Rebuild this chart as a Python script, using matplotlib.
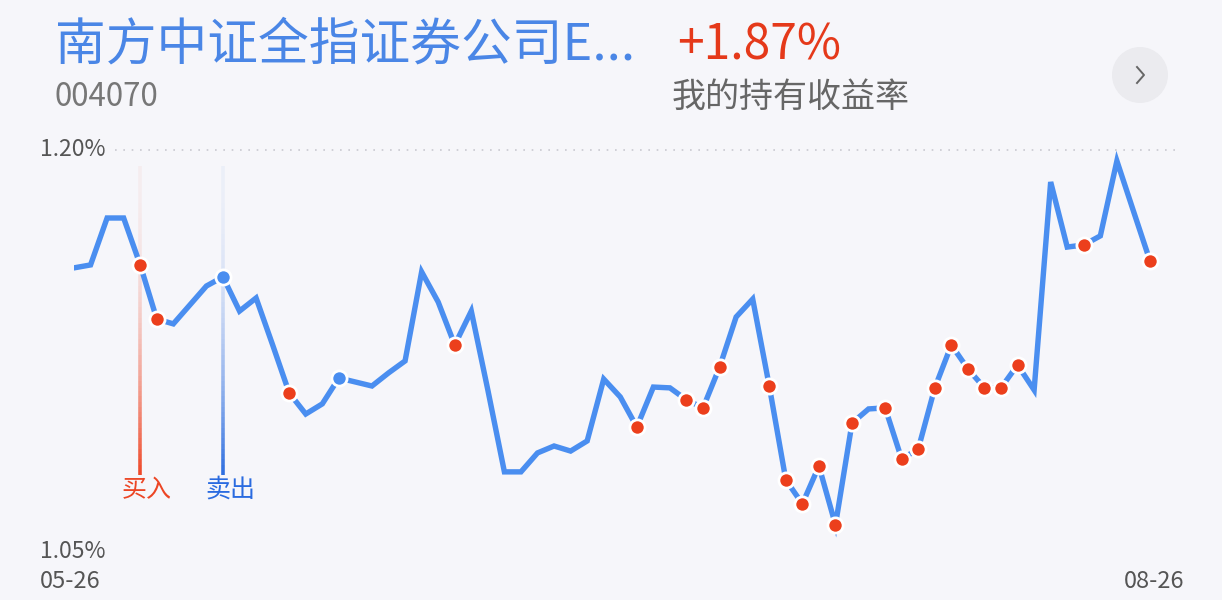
import matplotlib.pyplot as plt
import matplotlib.colors as mc
import numpy as np
from matplotlib.patches import Ellipse
from matplotlib.lines import Line2D
from matplotlib.collections import LineCollection

plt.rcParams['font.family'] = ['Noto Sans CJK SC', 'DejaVu Sans']

# daily holding return (%) from 05-26 to 08-26
returns = [1.1558, 1.1569, 1.1745, 1.1745, 1.1569, 1.1366, 1.1348, 1.1419, 1.1490, 1.1524,
           1.1396, 1.1445, 1.1269, 1.1089, 1.1010, 1.1048, 1.1145, 1.1130, 1.1115, 1.1164,
           1.1209, 1.1543, 1.1430, 1.1269, 1.1396, 1.1100, 1.0793, 1.0793, 1.0864, 1.0890,
           1.0871, 1.0909, 1.1141, 1.1074, 1.0961, 1.1111, 1.1108, 1.1063, 1.1033, 1.1186,
           1.1374, 1.1441, 1.1115, 1.0763, 1.0673, 1.0815, 1.0594, 1.0976, 1.1029, 1.1033,
           1.0841, 1.0879, 1.1108, 1.1269, 1.1179, 1.1108, 1.1108, 1.1194, 1.1100, 1.1880,
           1.1636, 1.1644, 1.1678, 1.1959, 1.1771, 1.1584]
red_idx = [4, 5, 13, 23, 34, 37, 38, 39, 42, 43, 44, 45, 46, 47, 49, 50, 51, 52, 53,
           54, 55, 56, 57, 61, 65]
blue_idx = [9, 16]
buy_idx = 4
sell_idx = 9
y_ticks = ['1.20%', '1.05%']
x_ticks = ['05-26', '08-26']

bg = '#f6f6fa'
line_blue = '#4a8ef0'
red = '#ec3f1c'

W, H = 1222, 600
fig = plt.figure(figsize=(W / 100, H / 100), dpi=100, facecolor=bg)

def fx(px):
    return px / W

def fy(py):
    return 1 - py / H

ax = fig.add_axes([fx(74), fy(550), fx(1150) - fx(74), fy(150) - fy(550)])
ax.set_facecolor(bg)
ax.set_xlim(0, len(returns) - 1)
ax.set_ylim(1.05, 1.20)
ax.axis('off')

x = np.arange(len(returns))
y = np.array(returns)

# dotted top guide
ax.hlines(1.20, 2.5, 66.8, colors='#c9c9d0', linestyles=(0, (1, 4)), lw=1.2, clip_on=False)

# buy / sell marker lines, fading towards the top
def grad_line(xi, color, top, bottom):
    ys = np.linspace(top, bottom, 60)
    segs = [[(xi, ys[i]), (xi, ys[i + 1])] for i in range(len(ys) - 1)]
    t = np.linspace(0, 1, len(segs))
    alphas = 0.05 + 0.95 * t ** 2.2
    rgb = mc.to_rgb(color)
    cols = [(rgb[0], rgb[1], rgb[2], a) for a in alphas]
    ax.add_collection(LineCollection(segs, colors=cols, linewidths=2.6, zorder=1))

grad_line(buy_idx, '#ef4a2a', 1.194, 1.0781)
grad_line(sell_idx, '#2f6fe0', 1.194, 1.0781)

ax.plot(x, y, color=line_blue, lw=3.9, solid_joinstyle='miter', zorder=3)
ax.scatter(x[red_idx], y[red_idx], s=120, color=red, edgecolors='white',
           linewidths=2, zorder=4, clip_on=False)
ax.scatter(x[blue_idx], y[blue_idx], s=120, color='#4a8ef0', edgecolors='white',
           linewidths=2, zorder=4, clip_on=False)

fig.text(fx(147), fy(490), '买入', color='#ec4524', fontsize=18, ha='center', va='center')
fig.text(fx(230), fy(490), '卖出', color='#2a6be0', fontsize=18, ha='center', va='center')

# axis labels
fig.text(fx(40), fy(150), y_ticks[0], color='#555555', fontsize=16.5, ha='left', va='center')
fig.text(fx(40), fy(552), y_ticks[1], color='#555555', fontsize=16.5, ha='left', va='center')
fig.text(fx(40), fy(582), x_ticks[0], color='#555555', fontsize=17, ha='left', va='center')
fig.text(fx(1184), fy(582), x_ticks[1], color='#555555', fontsize=17, ha='right', va='center')

# header
fig.text(fx(55), fy(46), '南方中证全指证券公司E...', color='#4a86e6', fontsize=36.5,
         ha='left', va='center')
fig.text(fx(55), fy(97), '004070', color='#777777', fontsize=22.5, ha='left', va='center')
fig.text(fx(677), fy(46), '+1.87%', color='#e5391a', fontsize=34.5, ha='left', va='center')
fig.text(fx(672), fy(97), '我的持有收益率', color='#666666', fontsize=24.5, ha='left', va='center')

# round arrow button
fig.patches.append(Ellipse((fx(1140), fy(75)), 56 / W, 56 / H, transform=fig.transFigure,
                           facecolor='#ebebef', edgecolor='none'))
fig.lines.append(Line2D([fx(1137), fx(1144), fx(1137)], [fy(67), fy(75), fy(83)],
                        transform=fig.transFigure, color='#666666', lw=1.4))

fig.savefig('out.png', dpi=100, facecolor=bg)
